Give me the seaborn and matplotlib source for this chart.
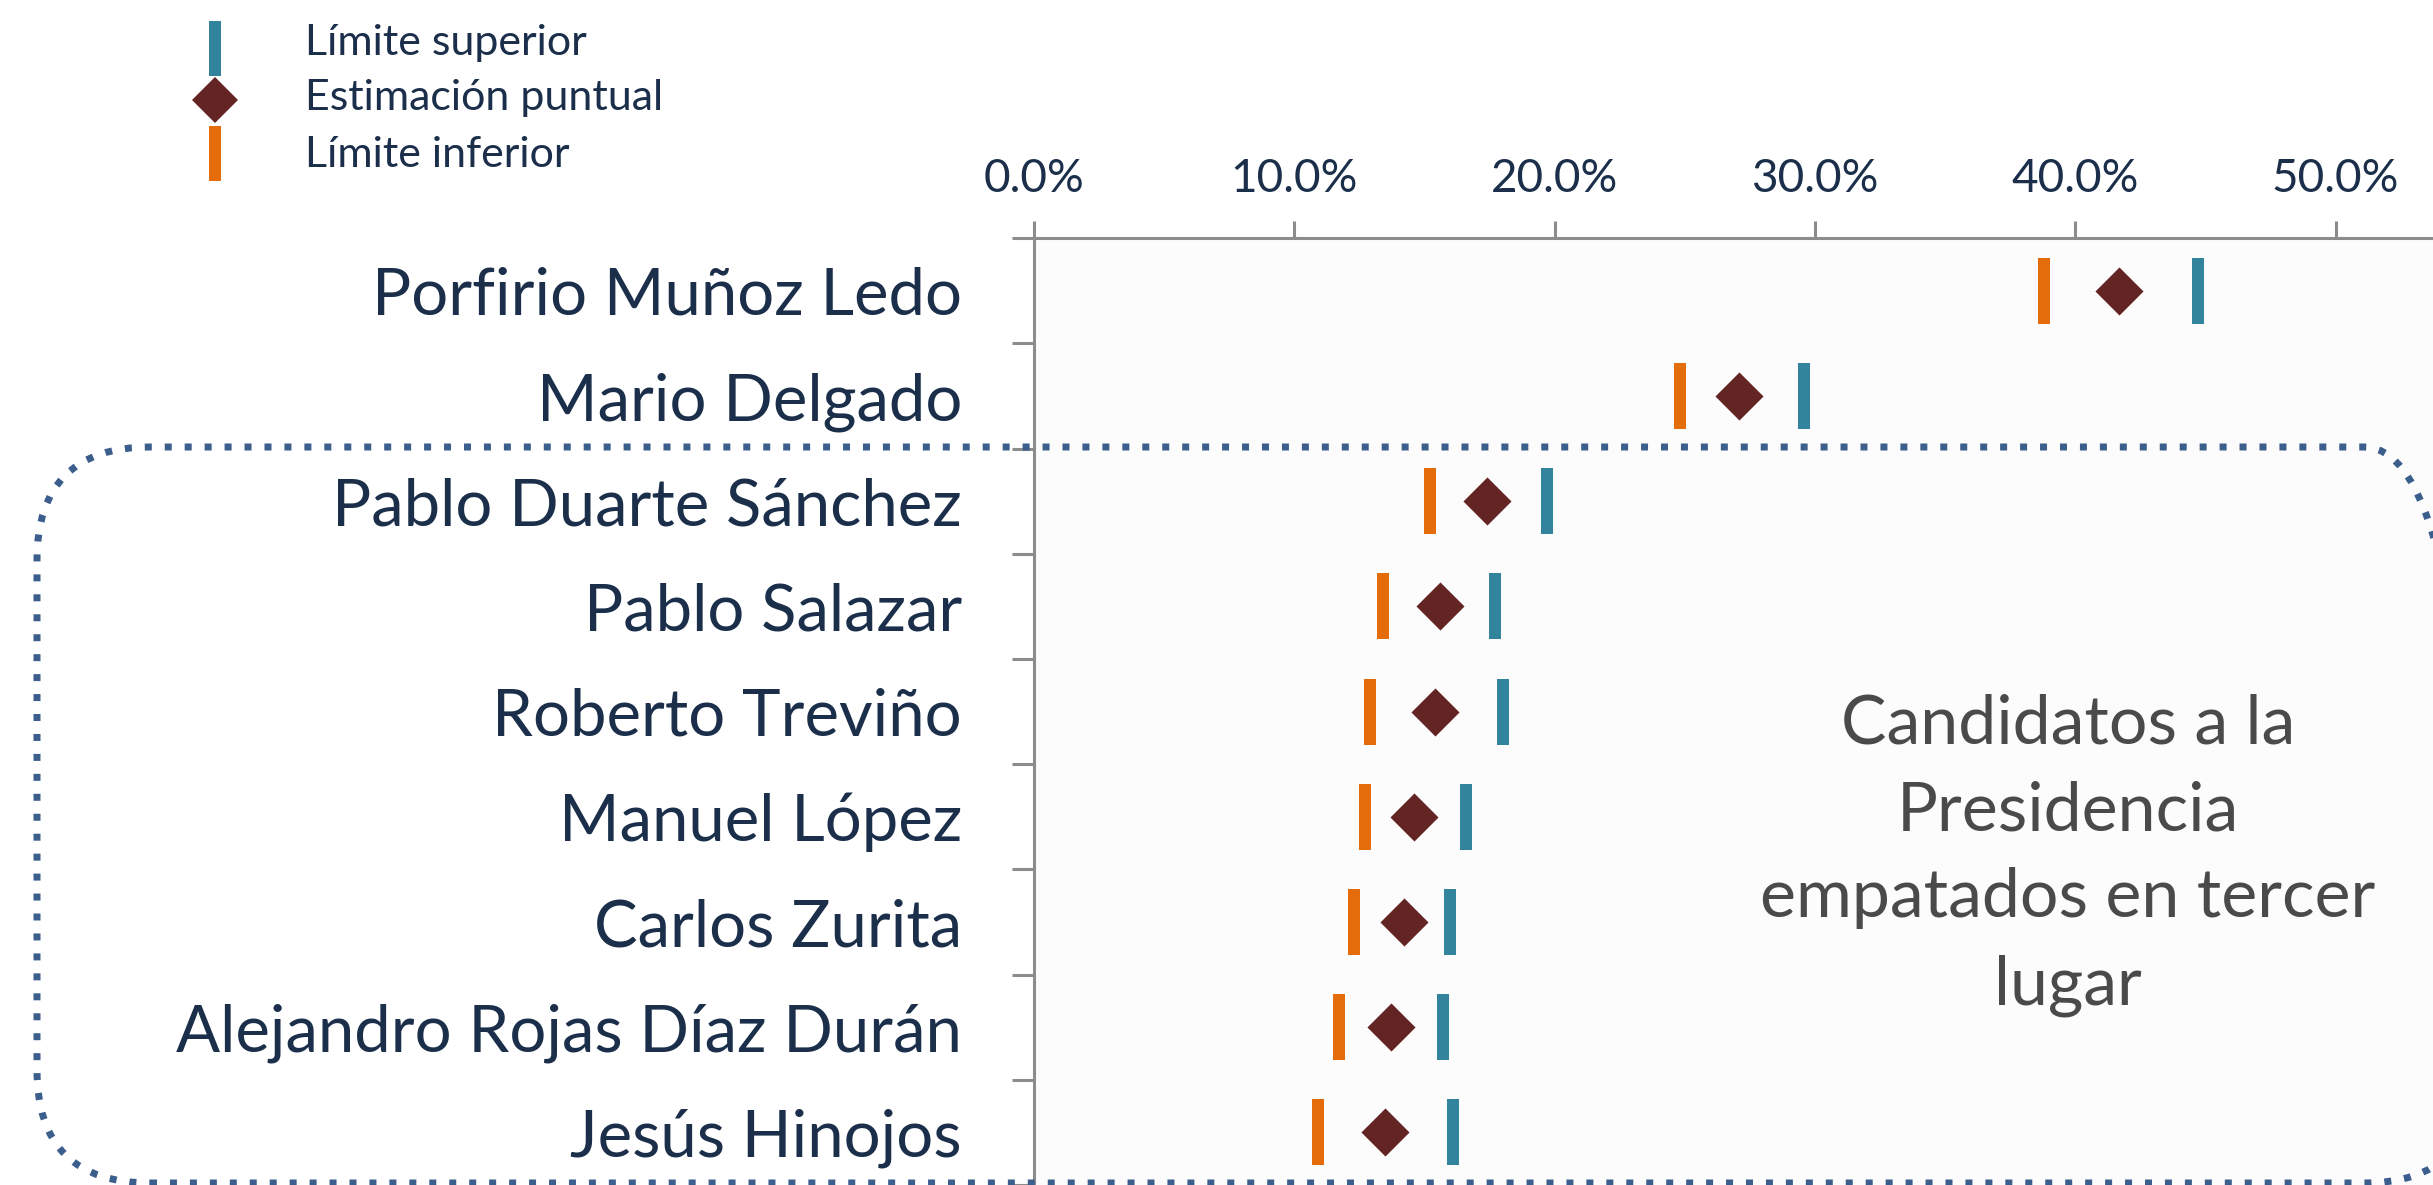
import numpy as np
import pandas as pd
import matplotlib
matplotlib.use("Agg")
import matplotlib.pyplot as plt
import seaborn as sns
from matplotlib.lines import Line2D
from matplotlib.patches import FancyBboxPatch
from matplotlib.transforms import IdentityTransform
from matplotlib.ticker import PercentFormatter

# ---------------- data ----------------
candidates = ["Porfirio Muñoz Ledo", "Mario Delgado", "Pablo Duarte Sánchez",
              "Pablo Salazar", "Roberto Treviño", "Manuel López", "Carlos Zurita",
              "Alejandro Rojas Díaz Durán", "Jesús Hinojos"]
lower = [38.8, 24.8, 15.2, 13.4, 12.9, 12.7, 12.3, 11.7, 10.9]
point = [41.7, 27.1, 17.4, 15.6, 15.4, 14.6, 14.2, 13.7, 13.5]
upper = [44.7, 29.6, 19.7, 17.7, 18.0, 16.6, 16.0, 15.7, 16.1]
legend_labels = ["Límite superior", "Estimación puntual", "Límite inferior"]
note = "Candidatos a la\nPresidencia\nempatados en tercer\nlugar"
xticks = [0, 10, 20, 30, 40, 50]

# ---------------- style ----------------
sns.set_theme(style="white")
plt.rcParams['font.family'] = ['Lato', 'DejaVu Sans']

C_UP = "#31849B"
C_PT = "#632523"
C_LO = "#E46C0A"
C_TXT = "#1B2F4B"
C_NOTE = "#4A4A4A"
C_AX = "#8C8C8C"
C_BOX = "#3B5E8C"

W, H = 2433, 1185
fig = plt.figure(figsize=(W / 100, H / 100), dpi=100)
fig.patch.set_facecolor("white")

ax_left = 1034 / W
ax_top_px = 238.3
row_px = 105.4
ax_h = (H - ax_top_px) / H
ax = fig.add_axes([ax_left, 0.0, 1 - ax_left, ax_h])
ax.set_facecolor("#FCFCFC")

df = pd.DataFrame({"cand": candidates, "pos": np.arange(len(candidates)),
                   "lower": lower, "point": point, "upper": upper})

bar_s = (66 * 0.72) ** 2
bar_lw = 12 * 0.72
sns.scatterplot(data=df, x="lower", y="pos", marker="|", s=bar_s, linewidth=bar_lw,
                color=C_LO, ax=ax, legend=False, zorder=3)
sns.scatterplot(data=df, x="upper", y="pos", marker="|", s=bar_s, linewidth=bar_lw,
                color=C_UP, ax=ax, legend=False, zorder=3)
sns.scatterplot(data=df, x="point", y="pos", marker="D", s=(34 * 0.72) ** 2, linewidth=0,
                color=C_PT, ax=ax, legend=False, zorder=4)

n = len(candidates)
span_rows = (H - ax_top_px) / row_px
ax.set_ylim(-0.5 + span_rows, -0.5)
xmax = (W - 1034) / 26.03
ax.set_xlim(0, xmax)

# x axis on top
ax.xaxis.tick_top()
ax.set_xticks(xticks)
ax.xaxis.set_major_formatter(PercentFormatter(decimals=1))
ax.tick_params(axis="x", which="major", direction="out", length=17 * 0.72,
               width=2.2, color=C_AX, labelsize=33, labelcolor=C_TXT, pad=15,
               top=True, bottom=False)

# y axis: boundary ticks (major) and centered labels (minor)
ax.set_yticks(np.arange(-0.5, n + 0.5, 1.0))
ax.set_yticklabels([])
ax.set_yticks(df["pos"], labels=df["cand"], minor=True)
ax.tick_params(axis="y", which="major", direction="out", length=22 * 0.72,
               width=2.2, color=C_AX, left=True)
ax.tick_params(axis="y", which="minor", length=0, labelsize=47,
               labelcolor=C_TXT, pad=72 * 0.72)
ax.set_xlabel("")
ax.set_ylabel("")

for side in ["right", "bottom"]:
    ax.spines[side].set_visible(False)
for side in ["top", "left"]:
    ax.spines[side].set_visible(True)
    ax.spines[side].set_color(C_AX)
    ax.spines[side].set_linewidth(2.2)
ax.grid(False)

# annotation
note_y = (857 - 292) / row_px
note_x = (2068 - 1034) / 26.03
ax.text(note_x, note_y, note, ha="center", va="center", multialignment="center",
        fontsize=49, color=C_NOTE, linespacing=1.5, zorder=5)

# dotted rounded box (pixel coordinates)
box = FancyBboxPatch((37, H - 1183), 2440, 1183 - 447,
                     boxstyle="round,pad=0,rounding_size=113",
                     transform=IdentityTransform(), facecolor="none",
                     edgecolor=C_BOX, linewidth=7 * 0.72,
                     linestyle=(0, (1, 1.85)), clip_on=False, zorder=6)
box.set_capstyle("butt")
fig.add_artist(box)

# legend (manual, figure pixel positions)
def fy(px):
    return 1 - px / H

leg_x = 215 / W
fig.add_artist(Line2D([leg_x], [fy(47.5)], transform=fig.transFigure, marker="|",
                      markersize=55 * 0.72, markeredgewidth=bar_lw, color=C_UP, linestyle="none"))
fig.add_artist(Line2D([leg_x], [fy(100)], transform=fig.transFigure, marker="D",
                      markersize=32 * 0.72, markeredgewidth=0, color=C_PT, linestyle="none"))
fig.add_artist(Line2D([leg_x], [fy(152.5)], transform=fig.transFigure, marker="|",
                      markersize=55 * 0.72, markeredgewidth=bar_lw, color=C_LO, linestyle="none"))
for lab, base in zip(legend_labels, [55, 110, 167]):
    fig.text(305 / W, fy(base), lab, ha="left", va="baseline", fontsize=31, color=C_TXT)

fig.savefig("out.png", dpi=100, facecolor="white")
